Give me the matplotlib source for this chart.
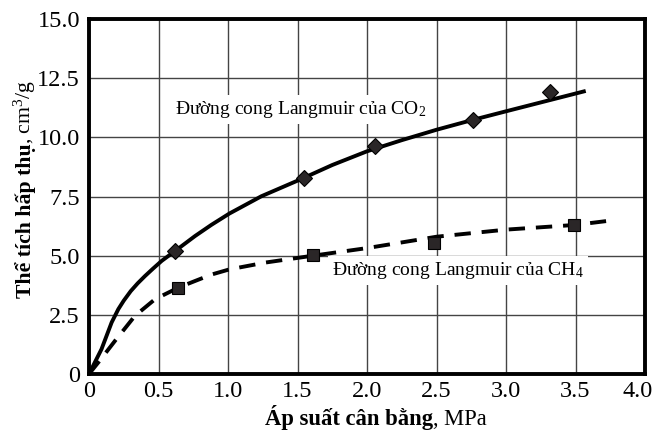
import matplotlib
matplotlib.use("Agg")
import matplotlib.pyplot as plt
import matplotlib.transforms as mtransforms

plt.rcParams["font.family"] = "Liberation Serif"
plt.rcParams["mathtext.fontset"] = "custom"
plt.rcParams["mathtext.rm"] = "Liberation Serif"
plt.rcParams["mathtext.it"] = "Liberation Serif:italic"
plt.rcParams["mathtext.bf"] = "Liberation Serif:bold"

# Số liệu đo (áp suất MPa, thể tích cm3/g)
co2_p = [0.62, 1.55, 2.06, 2.765, 3.32]
co2_v = [5.2, 8.3, 9.62, 10.75, 11.91]
ch4_p = [0.64, 1.61, 2.48, 3.49]
ch4_v = [3.65, 5.02, 5.55, 6.29]

# Đường cong Langmuir
co2_curve_p = [0, 0.09, 0.163, 0.211, 0.25, 0.3, 0.35, 0.403, 0.46, 0.523, 0.62, 0.763,
               0.88, 1.01, 1.24, 1.52, 1.75, 2.0, 2.25, 2.5, 2.75, 3.0, 3.3, 3.56]
co2_curve_v = [0, 1.05, 2.18, 2.74, 3.1, 3.5, 3.83, 4.14, 4.45, 4.78, 5.2, 5.83,
               6.3, 6.78, 7.51, 8.22, 8.83, 9.41, 9.88, 10.32, 10.72, 11.1, 11.55, 11.94]
ch4_curve_p = [0, 0.067, 0.187, 0.331, 0.475, 0.643, 0.763, 0.88, 1.01, 1.27, 1.6, 2.0,
               2.5, 3.0, 3.5, 3.72]
ch4_curve_v = [0, 0.49, 1.40, 2.46, 3.16, 3.65, 3.93, 4.2, 4.42, 4.71, 4.99, 5.32,
               5.8, 6.1, 6.3, 6.46]

x_ticks = [0, 0.5, 1.0, 1.5, 2.0, 2.5, 3.0, 3.5, 4.0]
x_tick_labels = ["0", "0.5", "1.0", "1.5", "2.0", "2.5", "3.0", "3.5", "4.0"]
y_ticks = [0, 2.5, 5.0, 7.5, 10.0, 12.5, 15.0]
y_tick_labels = ["0", "2.5", "5.0", "7.5", "10.0", "12.5", "15.0"]

W, H = 654, 434
fig = plt.figure(figsize=(W / 100, H / 100), dpi=100)
ax = fig.add_axes([89 / W, 1 - 374 / H, (645 - 89) / W, (374 - 19) / H])

ax.plot(co2_curve_p, co2_curve_v, color="black", lw=2.8, zorder=3)
ax.plot(ch4_curve_p, ch4_curve_v, color="black", lw=2.8, dashes=(4.2, 2.8), zorder=3)
ax.plot(co2_p, co2_v, "D", ms=8.6, mfc="#2a2627", mec="black", mew=0.8, zorder=4)
ax.plot(ch4_p, ch4_v, "s", ms=8.6, mfc="#2a2627", mec="black", mew=0.8, zorder=4)

ax.set_xlim(0, 4)
ax.set_ylim(0, 15)
ax.set_xticks(x_ticks)
ax.set_xticklabels(x_tick_labels)
ax.set_yticks(y_ticks)
ax.set_yticklabels(y_tick_labels)
ax.grid(True, color="#444444", lw=1.0)
ax.set_axisbelow(True)
ax.tick_params(length=0, labelsize=17.5)
ax.tick_params(axis="x", pad=5)
ax.tick_params(axis="y", pad=6.5)
for s in ax.spines.values():
    s.set_linewidth(2.8)

# nhãn 4.0 dịch vào trong để không bị cắt
last = ax.get_xticklabels()[-1]
last.set_horizontalalignment("right")
last.set_transform(last.get_transform() + mtransforms.ScaledTranslation(8 / 100, 0, fig.dpi_scale_trans))

box = dict(fc="white", ec="none", pad=3)
ax.text(0.62, 11.0, "Đường cong Langmuir của CO$_2$", fontsize=14, va="baseline", bbox=box, zorder=5)
ax.text(1.75, 4.17, "Đường cong Langmuir của CH$_4$", fontsize=14, va="baseline", bbox=box, zorder=5)

# nhãn trục: phần đậm + phần thường
fig.canvas.draw()
r = fig.canvas.get_renderer()

xb = fig.text(0, 1 - 425 / H, "Áp suất cân bằng", weight="bold", size=16.3, ha="left", va="baseline")
xr = fig.text(0, 1 - 425 / H, ", MPa", size=16.3, ha="left", va="baseline")
w1 = xb.get_window_extent(r).width
w2 = xr.get_window_extent(r).width
x0 = 376 - (w1 + w2) / 2
xb.set_x(x0 / W)
xr.set_x((x0 + w1) / W)

yb = fig.text(31 / W, 0, "Thể tích hấp thụ", weight="bold", size=15.7, rotation=90,
              rotation_mode="anchor", ha="left", va="baseline")
yr = fig.text(31 / W, 0, ", cm$^3$/g", size=15.7, rotation=90,
              rotation_mode="anchor", ha="left", va="baseline")
h1 = yb.get_window_extent(r).height
h2 = yr.get_window_extent(r).height
y0 = (H - 189) - (h1 + h2) / 2
yb.set_y(y0 / H)
yr.set_y((y0 + h1) / H)

fig.savefig("out.png", dpi=100)
